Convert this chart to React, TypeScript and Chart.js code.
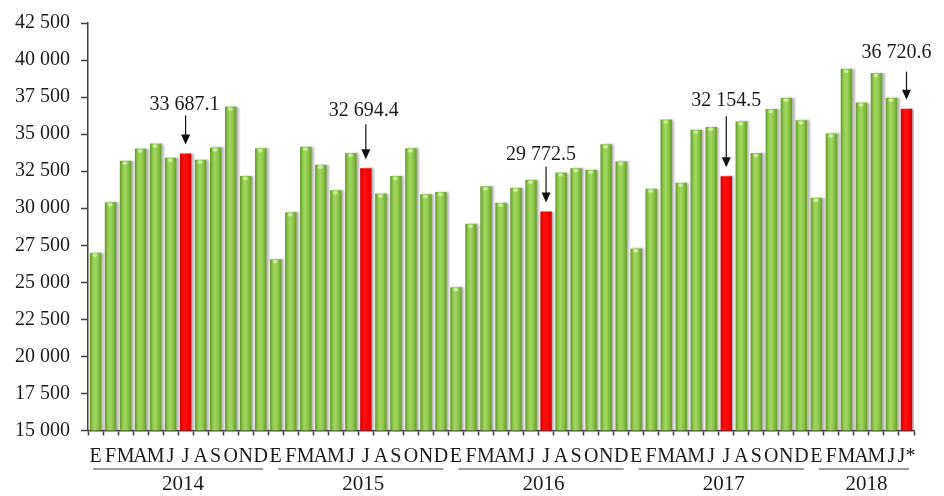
import React, { useEffect, useRef } from "react";
import { Chart, registerables } from "chart.js";

Chart.register(...registerables);

// ---------- data ----------
const monthLetters = ["E", "F", "M", "A", "M", "J", "J", "A", "S", "O", "N", "D"];
const years = ["2014", "2015", "2016", "2017", "2018"];
const values2014 = [27000, 30410, 33200, 34030, 34360, 33400, 33687.1, 33270, 34100, 36860, 32170, 34050];
const values2015 = [26560, 29730, 34150, 32940, 31210, 33720, 32694.4, 30990, 32170, 34050, 30940, 31100];
const values2016 = [24670, 28950, 31480, 30370, 31390, 31920, 29772.5, 32410, 32700, 32590, 34320, 33160];
const values2017 = [27290, 31320, 35980, 31720, 35290, 35490, 32154.5, 35860, 33720, 36690, 37460, 35930];
const values2018 = [30700, 35050, 39410, 37130, 39120, 37460, 36720.6];
const yearValues = [values2014, values2015, values2016, values2017, values2018];
const highlightMonth = 6; // July
const lastLabel = "J*";
const yMin = 15000;
const yMax = 42500;
const yStep = 2500;

const values: number[] = yearValues.flat();
const labels: string[] = [];
yearValues.forEach((arr) => arr.forEach((_, m) => labels.push(monthLetters[m])));
labels[labels.length - 1] = lastLabel;

// ---------- styles ----------
const FONT = '"Liberation Serif", "Times New Roman", serif';
const TEXT = "#1b1b1b";
const AXIS = "#404040";
const BAR_PCT = 0.76;
const annTextRise = [44, 52, 52, 70, 51];
const annArrowRise = [38, 44, 45, 60, 37];
const annDx = [-1, -2, -5, 0, -10];

const fmt = (v: number, dec = 0) => {
  const s = v.toFixed(dec);
  const [i, d] = s.split(".");
  const ii = i.replace(/\B(?=(\d{3})+(?!\d))/g, " ");
  return d ? ii + "." + d : ii;
};

const isHighlight = (i: number) => i % 12 === highlightMonth;

const decorPlugin = {
  id: "decor",
  beforeDatasetsDraw(chart: any) {
    const ctx = chart.ctx;
    ctx.save();
    ctx.shadowColor = "rgba(0,0,0,0.28)";
    ctx.shadowOffsetX = 2.5;
    ctx.shadowOffsetY = 0;
    ctx.shadowBlur = 2;
  },
  afterDatasetsDraw(chart: any) {
    const ctx = chart.ctx;
    ctx.restore();
    const meta = chart.getDatasetMeta(0);
    meta.data.forEach((bar: any, i: number) => {
      if (isHighlight(i)) return;
      const { x, y, width } = bar.getProps(["x", "y", "width"], true);
      ctx.save();
      ctx.fillStyle = "rgba(205,238,160,0.95)";
      ctx.beginPath();
      ctx.ellipse(x - 0.5, y + 2.5, width * 0.22, 1.8, 0, 0, Math.PI * 2);
      ctx.fill();
      ctx.restore();
    });
  },
  afterDraw(chart: any) {
    const ctx = chart.ctx;
    const xs = chart.scales.x;
    const meta = chart.getDatasetMeta(0);
    const cat = xs.width / labels.length;
    ctx.save();
    let start = 0;
    yearValues.forEach((arr, g) => {
      const end = start + arr.length - 1;
      const left = xs.getPixelForValue(start) - cat / 2 + (g === 0 ? 5 : 10);
      const right = xs.getPixelForValue(end) + cat / 2 - 5;
      const ly = xs.top + 38.5;
      ctx.strokeStyle = "#7a7a7a";
      ctx.lineWidth = 1.5;
      ctx.beginPath();
      ctx.moveTo(left, ly);
      ctx.lineTo(right, ly);
      ctx.stroke();
      const cx = (xs.getPixelForValue(start) - cat / 2 + xs.getPixelForValue(end) + cat / 2) / 2 + 5;
      ctx.fillStyle = TEXT;
      ctx.font = `21px ${FONT}`;
      ctx.textAlign = "center";
      ctx.textBaseline = "alphabetic";
      ctx.fillText(years[g], cx, xs.top + 59.5);

      const hi = start + highlightMonth;
      if (hi <= end) {
        const bar = meta.data[hi];
        const { x, y } = bar.getProps(["x", "y"], true);
        ctx.font = `20px ${FONT}`;
        ctx.fillText(fmt(values[hi], 1), x + annDx[g], y - annTextRise[g]);
        const tip = y - 9;
        const top = y - annArrowRise[g];
        ctx.strokeStyle = "#111";
        ctx.lineWidth = 1.2;
        ctx.beginPath();
        ctx.moveTo(x, top);
        ctx.lineTo(x, tip - 6);
        ctx.stroke();
        ctx.fillStyle = "#111";
        ctx.beginPath();
        ctx.moveTo(x - 4.5, tip - 10);
        ctx.lineTo(x + 4.5, tip - 10);
        ctx.lineTo(x, tip);
        ctx.closePath();
        ctx.fill();
        ctx.fillStyle = TEXT;
      }
      start = end + 1;
    });
    ctx.restore();
  },
};

export default function App() {
  const ref = useRef<HTMLCanvasElement | null>(null);
  useEffect(() => {
    if (!ref.current) return;
    const chart = new Chart(ref.current, {
      type: "bar",
      data: {
        labels,
        datasets: [
          {
            data: values,
            barPercentage: BAR_PCT,
            categoryPercentage: 1,
            borderWidth: 0,
            backgroundColor: (c: any) => {
              const ch = c.chart;
              const area = ch.chartArea;
              const xs = ch.scales && ch.scales.x;
              const red = isHighlight(c.dataIndex);
              if (!area || !xs) return red ? "#ff0000" : "#8cc63f";
              const x = xs.getPixelForValue(c.dataIndex);
              const w = (area.width / labels.length) * BAR_PCT;
              const g = ch.ctx.createLinearGradient(x - w / 2, 0, x + w / 2, 0);
              if (red) {
                g.addColorStop(0, "#d40000");
                g.addColorStop(0.4, "#ff1010");
                g.addColorStop(0.75, "#f50000");
                g.addColorStop(1, "#cc0000");
              } else {
                g.addColorStop(0, "#62962b");
                g.addColorStop(0.25, "#8ec94b");
                g.addColorStop(0.45, "#a2d862");
                g.addColorStop(0.75, "#86c142");
                g.addColorStop(1, "#64992c");
              }
              return g;
            },
          },
        ],
      },
      options: {
        responsive: false,
        animation: false,
        layout: { padding: { top: 17, right: 30, left: 0, bottom: 0 } },
        plugins: { legend: { display: false }, tooltip: { enabled: false } },
        scales: {
          x: {
            type: "category",
            offset: true,
            grid: {
              display: true,
              drawOnChartArea: false,
              drawTicks: true,
              tickLength: 5,
              tickColor: AXIS,
              tickWidth: 1.5,
              offset: true,
            },
            border: { display: true, color: AXIS, width: 1.5 },
            ticks: {
              autoSkip: false,
              maxRotation: 0,
              minRotation: 0,
              padding: 9,
              color: TEXT,
              font: { family: FONT, size: 20 },
            },
            afterFit: (s: any) => {
              s.height = 65.5;
            },
          },
          y: {
            min: yMin,
            max: yMax,
            grid: {
              display: true,
              drawOnChartArea: false,
              drawTicks: true,
              tickLength: 7,
              tickColor: AXIS,
              tickWidth: 1.5,
            },
            border: { display: true, color: AXIS, width: 1.5 },
            ticks: {
              stepSize: yStep,
              padding: 11,
              color: TEXT,
              font: { family: FONT, size: 20 },
              callback: (v: any) => fmt(Number(v)),
            },
            afterFit: (s: any) => {
              s.width = 88;
            },
          },
        },
      },
      plugins: [decorPlugin],
    });
    return () => chart.destroy();
  }, []);
  return (
    <div style={{ position: "absolute", left: 0, top: 0, width: 944, height: 496, background: "#fff" }}>
      <canvas ref={ref} width={944} height={496} style={{ display: "block" }} />
    </div>
  );
}
